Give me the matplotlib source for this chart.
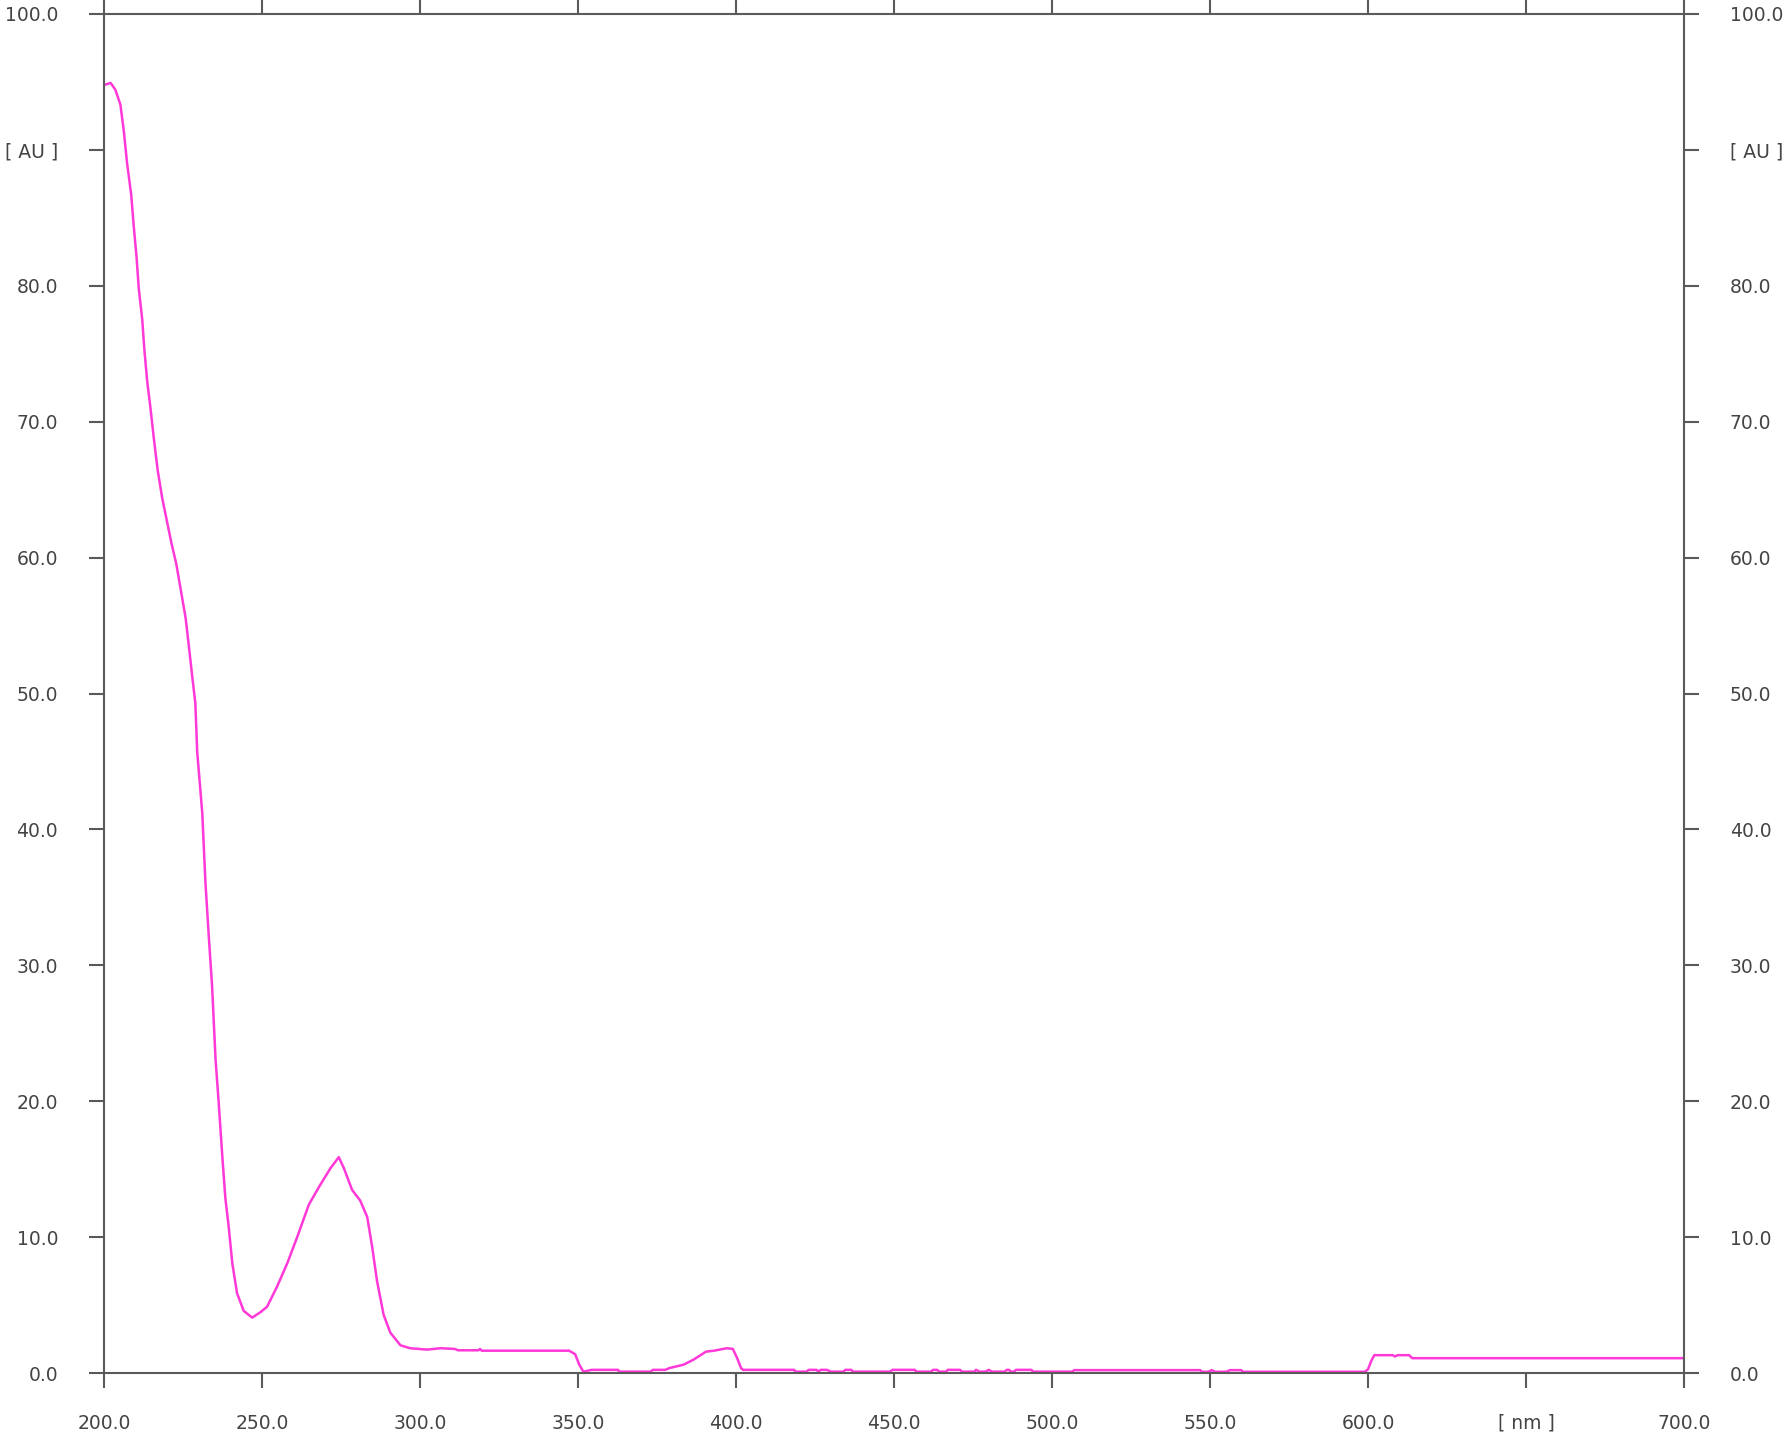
import matplotlib
matplotlib.use("Agg")
import matplotlib.pyplot as plt

# wavelength [nm] and absorbance [AU]
wavelength = [
    200.0, 202.1, 203.6, 205.2, 206.3, 207.3, 208.6, 209.4, 210.3, 211.0,
    212.1, 212.8, 213.7, 214.7, 215.8, 217.0, 218.4, 219.8, 221.3, 222.9,
    224.4, 225.8, 226.8, 227.9, 228.9, 229.5, 231.1, 232.1, 233.2, 234.2,
    235.3, 236.3, 237.4, 238.4, 239.5, 240.6, 242.1, 244.2, 246.9, 249.5,
    251.6, 254.8, 258.0, 261.1, 264.8, 268.0, 271.7, 274.3, 275.9, 278.5,
    281.1, 283.3, 284.8, 286.4, 288.5, 290.6, 293.8, 296.9, 302.2, 306.5,
    311.0, 312.0, 318.5, 319.0, 319.5, 347.2, 349.1, 350.4, 351.7, 354.3,
    362.7, 363.0, 373.0, 373.7, 377.6, 378.9, 383.4, 386.7, 390.5, 393.1,
    397.0, 399.0, 400.3, 401.6, 402.2, 418.4, 418.8, 422.3, 423.0, 425.5,
    426.0, 426.8, 428.8, 430.0, 434.0, 434.6, 436.5, 437.0, 448.8, 449.5,
    456.6, 457.0, 461.8, 462.3, 463.6, 464.4, 466.5, 467.0, 470.9, 471.5,
    475.4, 476.0, 477.0, 479.0, 480.0, 481.0, 485.0, 485.7, 486.4, 487.0,
    488.0, 488.6, 493.5, 494.0, 506.5, 507.0, 546.9, 547.4, 549.5, 550.5,
    551.6, 555.2, 556.3, 559.9, 560.4, 599.0, 600.0, 601.0, 602.0, 607.8,
    608.5, 609.4, 613.0, 614.0, 700.0,
]
absorbance = [
    94.75, 94.9, 94.4, 93.3, 91.3, 89.0, 86.7, 84.4, 82.1, 79.8,
    77.5, 75.2, 72.9, 71.0, 68.7, 66.4, 64.4, 62.8, 61.1, 59.5,
    57.5, 55.6, 53.6, 51.3, 49.3, 45.7, 41.2, 36.1, 32.0, 28.5,
    23.1, 19.9, 16.1, 12.9, 10.7, 8.1, 5.9, 4.6, 4.1, 4.5,
    4.9, 6.4, 8.1, 10.0, 12.4, 13.7, 15.1, 15.9, 15.1, 13.5,
    12.7, 11.5, 9.4, 6.8, 4.3, 3.0, 2.07, 1.85, 1.75, 1.85,
    1.8, 1.7, 1.7, 1.8, 1.67, 1.67, 1.41, 0.64, 0.13, 0.26,
    0.26, 0.13, 0.13, 0.26, 0.26, 0.39, 0.64, 1.03, 1.6, 1.67,
    1.85, 1.8, 1.16, 0.39, 0.26, 0.26, 0.13, 0.13, 0.26, 0.26,
    0.13, 0.26, 0.26, 0.13, 0.13, 0.26, 0.26, 0.13, 0.13, 0.26,
    0.26, 0.13, 0.13, 0.26, 0.26, 0.13, 0.13, 0.26, 0.26, 0.13,
    0.13, 0.26, 0.13, 0.13, 0.26, 0.13, 0.13, 0.26, 0.26, 0.13,
    0.13, 0.26, 0.26, 0.13, 0.13, 0.24, 0.24, 0.12, 0.12, 0.24,
    0.12, 0.12, 0.24, 0.24, 0.12, 0.12, 0.3, 0.9, 1.34, 1.34,
    1.25, 1.34, 1.34, 1.12, 1.12,
]

x_ticks = [200, 250, 300, 350, 400, 450, 500, 550, 600, 650, 700]
x_labels = ["200.0", "250.0", "300.0", "350.0", "400.0", "450.0",
            "500.0", "550.0", "600.0", "[ nm ]", "700.0"]
y_ticks = [0, 10, 20, 30, 40, 50, 60, 70, 80, 90, 100]
y_labels = ["0.0", "10.0", "20.0", "30.0", "40.0", "50.0",
            "60.0", "70.0", "80.0", "[ AU ]", "100.0"]

axis_color = "#5a5a5a"
text_color = "#444444"

fig = plt.figure(figsize=(17.84, 14.35), dpi=100)
ax = fig.add_axes([104 / 1784, 1 - 1373.4 / 1435, 1580 / 1784, 1359.8 / 1435])

ax.plot(wavelength, absorbance, color="#ff38d8", lw=1.8)

ax.set_xlim(200, 700)
ax.set_ylim(0, 100)
ax.set_xticks(x_ticks)
ax.set_xticklabels(x_labels)
ax.set_yticks(y_ticks)
ax.set_yticklabels(y_labels)

for s in ax.spines.values():
    s.set_color(axis_color)
    s.set_linewidth(1.5)

ax.tick_params(axis="both", direction="out", length=11, width=1.5,
               color=axis_color, labelcolor=text_color, labelsize=13.5)
ax.tick_params(axis="x", top=True, pad=18)
ax.tick_params(axis="y", right=True, labelright=True, pad=22)

fig.savefig("out.png", dpi=100)
